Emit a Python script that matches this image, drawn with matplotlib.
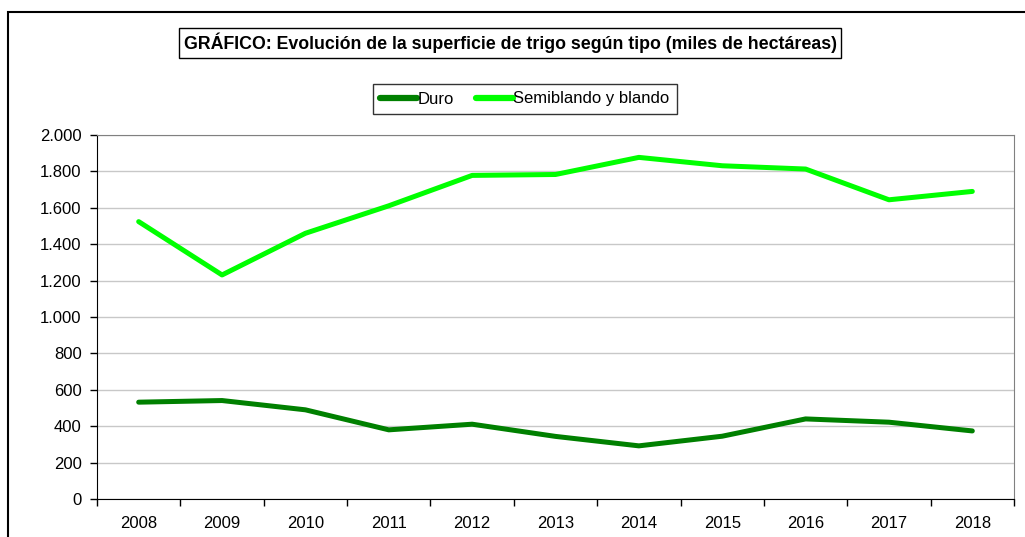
import matplotlib.pyplot as plt
from matplotlib.patches import Rectangle

plt.rcParams['font.family'] = ['Liberation Sans', 'DejaVu Sans']

years = ['2008', '2009', '2010', '2011', '2012', '2013', '2014', '2015', '2016', '2017', '2018']
duro = [532, 541, 490, 380, 411, 344, 292, 345, 440, 422, 374]
blando = [1524, 1231, 1460, 1611, 1778, 1783, 1877, 1831, 1813, 1644, 1690]
yticks = [0, 200, 400, 600, 800, 1000, 1200, 1400, 1600, 1800, 2000]
ylabels = ['0', '200', '400', '600', '800', '1.000', '1.200', '1.400', '1.600', '1.800', '2.000']

W, H = 1025, 537
fig = plt.figure(figsize=(W / 100, H / 100), dpi=100)

# chart border (cut off at right and bottom)
fig.patches.append(Rectangle((8 / W, -0.05), 1.1, (H - 12) / H + 0.05,
                             transform=fig.transFigure, fill=False,
                             edgecolor='black', linewidth=1.5))

ax = fig.add_axes([97 / W, (H - 499) / H, (1014 - 97) / W, (499 - 135) / H])
x = list(range(len(years)))
ax.plot(x, duro, color='#008000', lw=3.6, solid_capstyle='round', label='Duro')
ax.plot(x, blando, color='#00FF00', lw=3.6, solid_capstyle='round', label='Semiblando y blando')

ax.set_xlim(-0.5, len(years) - 0.5)
ax.set_ylim(0, 2000)
ax.set_yticks(yticks)
ax.set_yticklabels(ylabels, fontsize=12)
ax.set_xticks([i - 0.5 for i in range(len(years) + 1)])
ax.set_xticklabels([])
ax.set_xticks(x, minor=True)
ax.set_xticklabels(years, minor=True, fontsize=12)
ax.tick_params(axis='x', which='minor', length=0, pad=12)
ax.tick_params(axis='x', which='major', length=5, direction='out', width=1)
ax.tick_params(axis='y', length=5, direction='out', width=1, pad=6)
ax.yaxis.grid(True, color='#c8c8c8', lw=1)
ax.set_axisbelow(True)
for s in ['top', 'right']:
    ax.spines[s].set_color('#808080')
for s in ['left', 'bottom']:
    ax.spines[s].set_color('black')

fig.text(510 / W, 1 - 43 / H, 'GRÁFICO: Evolución de la superficie de trigo según tipo (miles de hectáreas)',
         ha='center', va='center', fontsize=12.8, fontweight='bold',
         bbox=dict(boxstyle='square,pad=0.25', fc='white', ec='black', lw=1))

leg = fig.legend(loc='center', bbox_to_anchor=(525 / W, 1 - 99 / H), ncol=2, fontsize=12,
                 frameon=True, fancybox=False, edgecolor='black', handlelength=2.2,
                 handletextpad=0.05, columnspacing=1.3, borderpad=0.45)
leg.get_frame().set_linewidth(1)
for h in leg.get_lines():
    h.set_linewidth(4.5)

fig.savefig('out.png', dpi=100)
